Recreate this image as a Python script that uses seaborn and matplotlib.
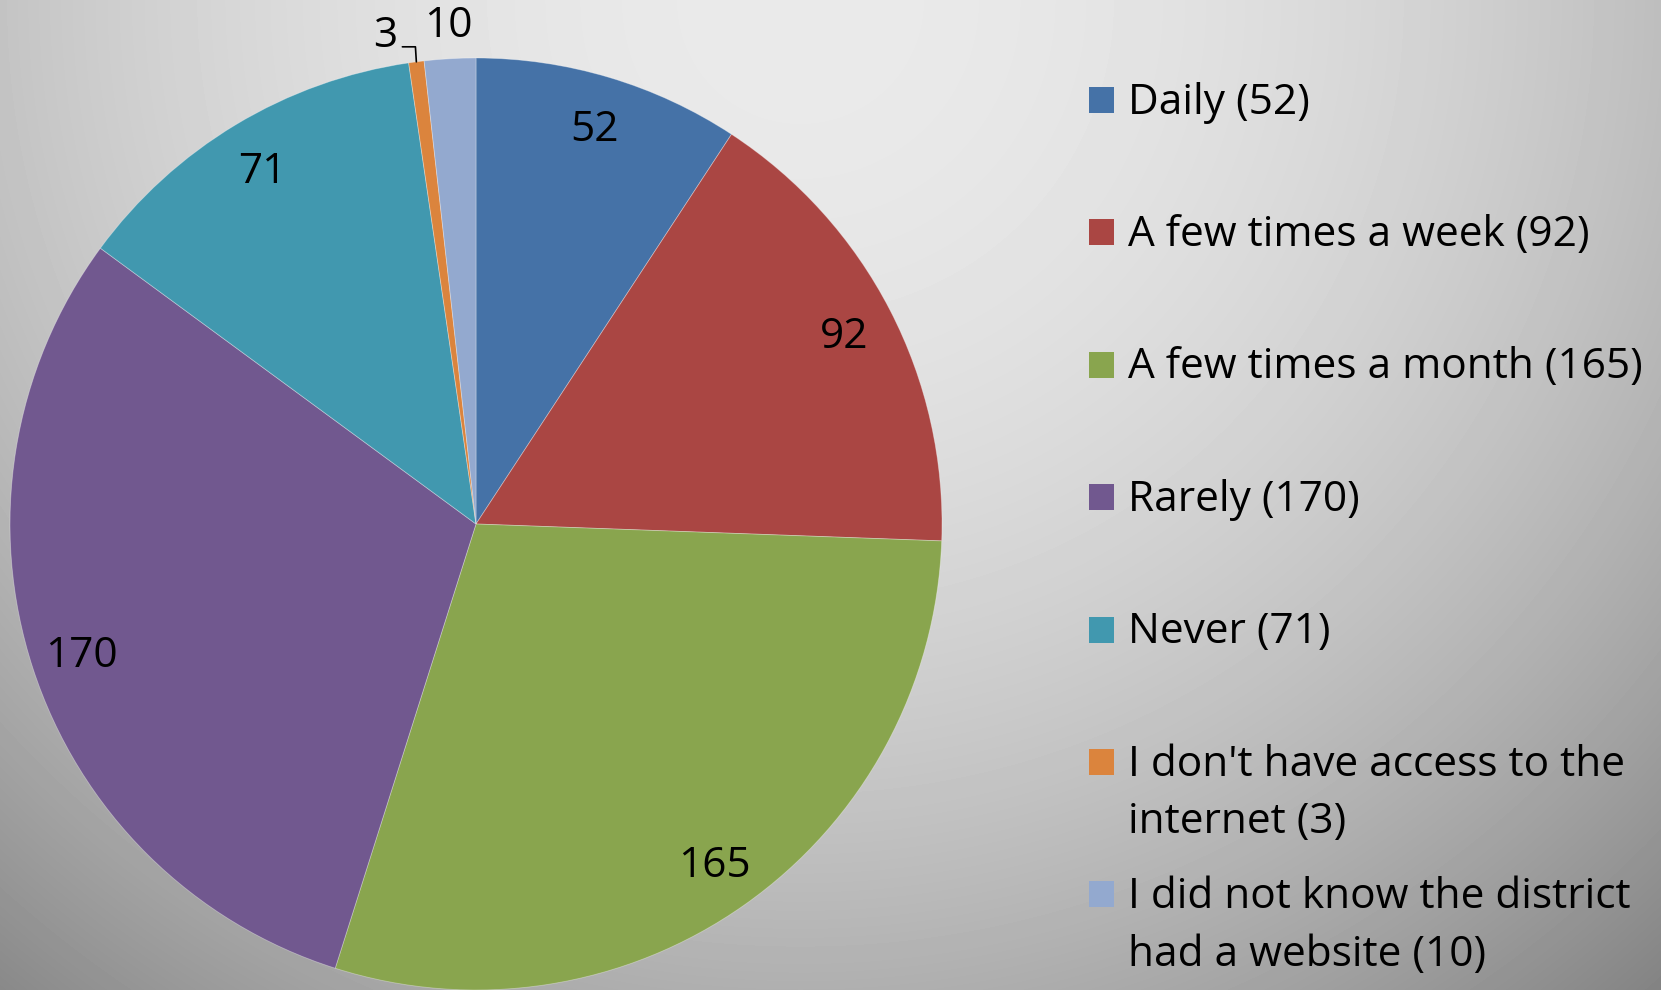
import textwrap
import numpy as np
import matplotlib
matplotlib.use("Agg")
import matplotlib.pyplot as plt
import seaborn as sns
from matplotlib.patches import Rectangle

# ---- data ----
categories = ["Daily", "A few times a week", "A few times a month", "Rarely", "Never",
              "I don't have access to the internet",
              "I did not know the district had a website"]
values = [52, 92, 165, 170, 71, 3, 10]
colors = ["#4572A7", "#AA4643", "#89A54E", "#71588F", "#4198AF", "#DB843D", "#93A9CF"]

sns.set_theme(style="white")
plt.rcParams['font.family'] = ['Open Sans', 'DejaVu Sans']

W, H = 1661, 990
fig = plt.figure(figsize=(W / 100, H / 100), dpi=100)

# ---- background gradient ----
bg = fig.add_axes([0, 0, 1, 1], zorder=0)
yy, xx = np.mgrid[0:H, 0:W]
d2 = (xx - 800.0) ** 2 + (yy + 0.0) ** 2
b = np.clip(234 - 6e-5 * d2, 120, 255) / 255.0
bg.imshow(b, cmap='gray', vmin=0, vmax=1, aspect='auto', interpolation='bilinear')
bg.axis('off')

# ---- pie ----
cx, cy, R = 476, 524, 466
lim = 1.1
side = 2 * R * lim
ax = fig.add_axes([(cx - side / 2) / W, (H - cy - side / 2) / H, side / W, side / H], zorder=1)
ax.set_facecolor('none')
wedges, _ = ax.pie(values, colors=colors, startangle=90, counterclock=False, radius=1,
                   wedgeprops=dict(edgecolor=(1, 1, 1, 0.35), linewidth=0.6))
ax.set_xlim(-lim, lim)
ax.set_ylim(-lim, lim)
ax.set_aspect('equal')
ax.axis('off')

total = float(sum(values))
cum = 0.0
fs = 30.5
for i, v in enumerate(values):
    mid = np.deg2rad(90 - 360 * (cum + v / 2) / total)
    cum += v
    if v >= 20:
        r = 0.89
        ax.text(r * np.cos(mid), r * np.sin(mid) - 0.007, str(v), ha='center', va='center',
                fontsize=fs, color='black')
    elif v < 5:
        # outside label with leader line
        x0, y0 = np.cos(mid), np.sin(mid)
        ly = 1.024
        lx = x0 - 0.03
        ax.plot([x0, x0 - 0.002, lx], [y0, ly, ly], color='black', lw=1.2, clip_on=False)
        ax.text(lx - 0.01, ly - 0.022, str(v), ha='right', va='bottom',
                fontsize=fs, color='black')
    else:
        r = 1.07
        ax.text(r * np.cos(mid), r * np.sin(mid), str(v), ha='center', va='center',
                fontsize=fs, color='black')

# ---- legend (manual) ----
row0, step, line_gap = 100.0, 132.4, 58.0
sq_x, sq_w, sq_h = 1089, 25, 26
text_x = 1128
for i, (c, v) in enumerate(zip(categories, values)):
    yc = row0 + i * step
    fig.patches.append(Rectangle((sq_x / W, 1 - (yc + sq_h / 2) / H), sq_w / W, sq_h / H,
                                 transform=fig.transFigure, facecolor=colors[i],
                                 edgecolor='none', zorder=3))
    for j, line in enumerate(textwrap.wrap(f"{c} ({v})", 27)):
        yb = yc + j * line_gap + 13.5
        fig.text(text_x / W, 1 - yb / H, line, ha='left', va='baseline',
                 fontsize=fs, color='black', zorder=3)

fig.savefig("out.png", dpi=100)
